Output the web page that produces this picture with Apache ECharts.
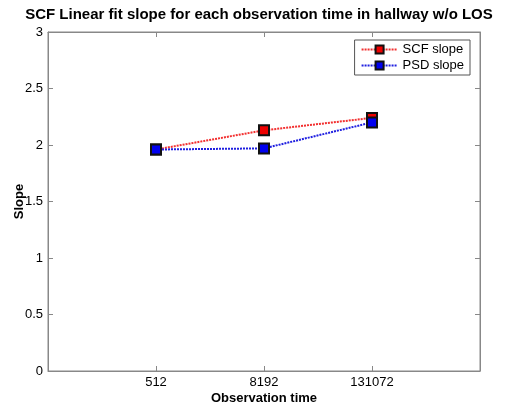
<!DOCTYPE html>
<html><head><meta charset="utf-8">
<script src="https://cdn.jsdelivr.net/npm/echarts@6/dist/echarts.min.js"></script>
<style>html,body{margin:0;padding:0;background:#fff}#c{width:518px;height:410px}</style>
</head><body><div id="c"></div>
<script>
const categories = ['512', '8192', '131072'];
const scfSlope = [1.96, 2.13, 2.24];
const psdSlope = [1.96, 1.97, 2.20];
const yTicks = [0, 0.5, 1, 1.5, 2, 2.5, 3];

const font = 'Liberation Sans, Arial, sans-serif';
const chart = echarts.init(document.getElementById('c'));
const pos = categories.map((c, i) => i + 1);
const mk = (vals) => vals.map((v, i) => [pos[i], v]);
const axisLine = {show: true, onZero: false, lineStyle: {color: '#888', width: 1}};
const tick = {show: true, inside: true, length: 5, lineStyle: {color: '#888', width: 1}};
chart.setOption({
  animation: false,
  backgroundColor: '#fff',
  title: {text: 'SCF Linear fit slope for each observation time in hallway w/o LOS', left: 'center', top: 2,
    textStyle: {fontFamily: font, fontSize: 15, fontWeight: 'bold', color: '#000'}},
  grid: {left: 48, right: 38, top: 32, bottom: 39, containLabel: false, outerBoundsMode: 'none',
    show: true, borderColor: '#888', borderWidth: 1, backgroundColor: 'transparent'},
  legend: {
    right: 48, top: 40, orient: 'vertical', itemWidth: 36, itemHeight: 10, itemGap: 3,
    backgroundColor: '#fff', borderColor: '#555', borderWidth: 1, padding: [3, 6, 3, 6],
    textStyle: {fontFamily: font, fontSize: 13, color: '#000'},
    data: ['SCF slope', 'PSD slope']
  },
  xAxis: [{
    type: 'value', min: 0, max: 4, interval: 1, position: 'bottom',
    name: 'Observation time', nameLocation: 'middle', nameGap: 21, nameMoveOverlap: false,
    nameTextStyle: {fontFamily: font, fontSize: 13, fontWeight: 'bold', color: '#000'},
    axisLine, splitLine: {show: false}, axisTick: tick,
    axisLabel: {fontFamily: font, fontSize: 13, color: '#000', margin: 5,
      formatter: v => (v >= 1 && v <= categories.length) ? categories[v - 1] : ''}
  }, {
    type: 'value', min: 0, max: 4, interval: 1, position: 'top',
    axisLine, splitLine: {show: false}, axisTick: tick,
    axisLabel: {show: false}
  }],
  yAxis: [{
    type: 'value', min: 0, max: 3, interval: 0.5, position: 'left',
    name: 'Slope', nameLocation: 'middle', nameGap: 22, nameMoveOverlap: false,
    nameTextStyle: {fontFamily: font, fontSize: 13, fontWeight: 'bold', color: '#000'},
    axisLine, splitLine: {show: false}, axisTick: tick,
    axisLabel: {fontFamily: font, fontSize: 13, color: '#000', margin: 5,
      formatter: v => yTicks.includes(v) ? String(v) : ''}
  }, {
    type: 'value', min: 0, max: 3, interval: 0.5, position: 'right',
    axisLine, splitLine: {show: false}, axisTick: tick,
    axisLabel: {show: false}
  }],
  series: [{
    name: 'SCF slope', type: 'line', data: mk(scfSlope),
    symbol: 'rect', symbolSize: 10,
    lineStyle: {color: '#f23030', width: 2, type: [2, 1]},
    itemStyle: {color: '#ee0000', borderColor: '#111', borderWidth: 2}
  }, {
    name: 'PSD slope', type: 'line', data: mk(psdSlope),
    symbol: 'rect', symbolSize: 10,
    lineStyle: {color: '#2020e0', width: 2, type: [2, 1]},
    itemStyle: {color: '#0000f0', borderColor: '#111', borderWidth: 2}
  }, {
    name: 'frame', type: 'line', xAxisIndex: 1, yAxisIndex: 1, data: [], silent: true
  }]
});
</script></body></html>
